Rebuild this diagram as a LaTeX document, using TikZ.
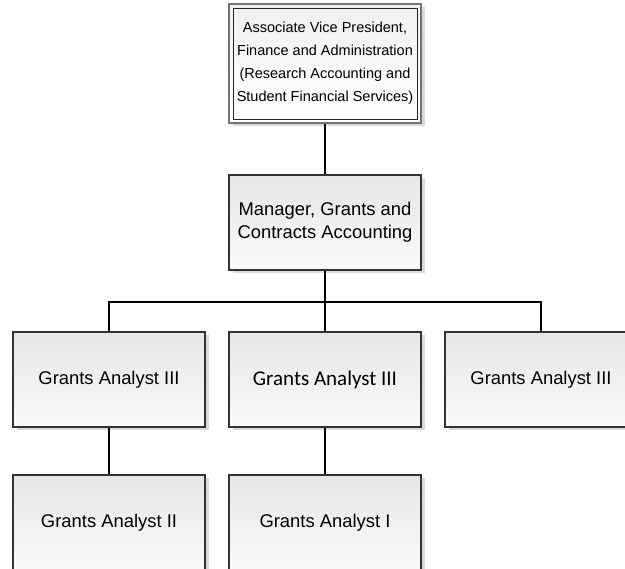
\documentclass[tikz,border=0pt]{standalone}
\usepackage{fontspec}
\setmainfont{Liberation Sans}
\newfontfamily\calibri{Carlito}
\usetikzlibrary{shadows}

\begin{document}
\begin{tikzpicture}[x=1pt, y=-1pt,
    box/.style={draw=black!80, line width=1.2pt, top color=black!10, bottom color=black!2,
        minimum width=192pt, minimum height=95pt, inner sep=0pt, align=center,
        font=\fontsize{18.4}{23}\selectfont,
        general shadow={fill=black!15, shadow xshift=3.5pt, shadow yshift=-3.5pt}},
    link/.style={black, line width=2.5pt}]
    \clip (0, 0) rectangle (625, 569);
    % top
    \node[box, minimum height=119pt, draw=black!55, line width=2pt, top color=black!6, bottom color=white,
        font=\fontsize{14.5}{23}\selectfont] (avp) at (325, 63.5)
        {Associate Vice President,\\Finance and Administration\\(Research Accounting and\\Student Financial Services)};
    \draw[black!85, line width=0.8pt] ([shift={(5pt,-5pt)}]avp.north west) rectangle ([shift={(-5pt,5pt)}]avp.south east);
    % manager
    \node[box] (mgr) at (325, 222.5) {Manager, Grants and\\Contracts Accounting};
    % row 1
    \node[box] (gaa) at (109, 379.5) {Grants Analyst III};
    \node[box, font=\calibri\fontsize{21}{25}\selectfont] (gab) at (325, 379.5) {Grants Analyst III};
    \node[box] (gac) at (541, 379.5) {Grants Analyst III};
    % row 2
    \node[box] (gad) at (109, 522.5) {Grants Analyst II};
    \node[box] (gae) at (325, 522.5) {Grants Analyst I};
    % links
    \coordinate (bus) at (325, 302);
    \draw[link] (avp.south) -- (mgr.north);
    \draw[link] (mgr.south) -- (gab.north);
    \draw[link] (gaa.north) |- (bus) -| (gac.north);
    \draw[link] (gaa.south) -- (gad.north);
    \draw[link] (gab.south) -- (gae.north);
\end{tikzpicture}
\end{document}
